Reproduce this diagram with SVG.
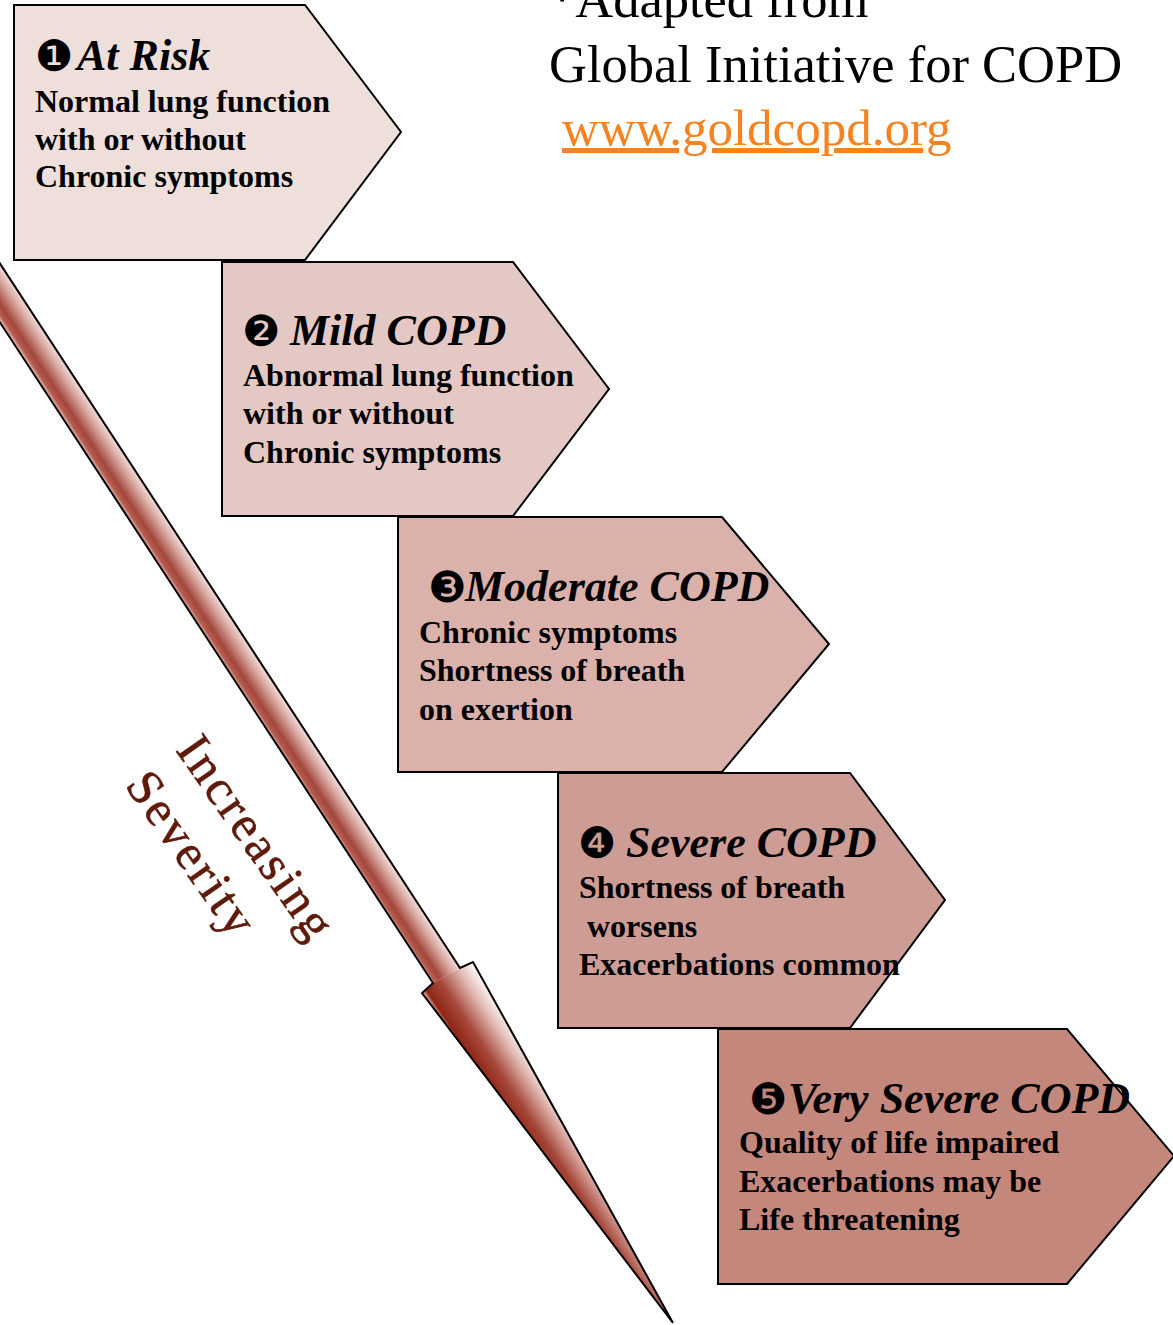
<svg xmlns="http://www.w3.org/2000/svg" width="1173" height="1325" viewBox="0 0 1173 1325">
  <defs>
    <style>
      .box { stroke: #000; stroke-width: 2; stroke-linejoin: miter; }
      .head { font-family: "Liberation Serif", "Times New Roman", serif; font-size: 44px; font-weight: bold; font-style: italic; fill: #000; }
      .num { font-family: "DejaVu Sans", sans-serif; font-size: 43px; font-style: normal; font-weight: normal; }
      .body { font-family: "Liberation Serif", "Times New Roman", serif; font-size: 32px; font-weight: bold; fill: #000; }
      .note { font-family: "Liberation Serif", "Times New Roman", serif; font-size: 52.5px; fill: #000; }
      .link { font-family: "Liberation Serif", "Times New Roman", serif; font-size: 51px; fill: #F6831F; text-decoration: underline; }
      .sev { font-family: "Liberation Serif", "Times New Roman", serif; font-size: 50px; fill: #5E1A0B; stroke: #5E1A0B; stroke-width: 0.6; letter-spacing: 3px; }
    </style>
    <!-- cylindrical shading across the shaft -->
    <linearGradient id="shaftGrad" gradientUnits="userSpaceOnUse" x1="246" y1="700" x2="273.6" y2="682">
      <stop offset="0" stop-color="#F2D6D2"/>
      <stop offset="0.14" stop-color="#B55C50"/>
      <stop offset="0.32" stop-color="#A3473B"/>
      <stop offset="0.72" stop-color="#D8A7A0"/>
      <stop offset="1" stop-color="#F4DEDB"/>
    </linearGradient>
    <!-- dark-to-white shading across the arrow head -->
    <linearGradient id="headGrad" gradientUnits="userSpaceOnUse" x1="424" y1="995" x2="474" y2="962">
      <stop offset="0" stop-color="#E9BDB6"/>
      <stop offset="0.08" stop-color="#8E2614"/>
      <stop offset="0.35" stop-color="#A6473A"/>
      <stop offset="0.72" stop-color="#E3BCB6"/>
      <stop offset="1" stop-color="#FFFFFF"/>
    </linearGradient>
  </defs>

  <rect x="0" y="0" width="1173" height="1325" fill="#FFFFFF"/>

  <!-- source note -->
  <g id="source">
    <text class="note" x="549" y="17">*Adapted from</text>
    <text class="note" x="549" y="82">Global Initiative for COPD</text>
    <text class="link" x="562" y="145">www.goldcopd.org</text>
  </g>

  <!-- severity arrow: shaft and head filled separately, one outline on top -->
  <g id="connectors">
    <path d="M-20,233 L460,968 L433,983 L-20,292 Z" fill="url(#shaftGrad)"/>
    <path d="M460,968 L473,962 L673,1323 L422,993 L433,983 Z" fill="url(#headGrad)"/>
    <path d="M-20,233 L460,968 L473,962 L673,1323 L422,993 L433,983 L-20,292" fill="none" stroke="#000" stroke-width="2" stroke-linejoin="miter"/>
  </g>

  <g id="severity-label" transform="translate(175,750) rotate(55)">
    <text class="sev" x="0" y="0">Increasing</text>
    <text class="sev" x="0" y="62">Severity</text>
  </g>

  <!-- stage 1 -->
  <g id="stage1">
    <path class="box" d="M14,5 H305 L401,132 L305,260 H14 Z" fill="#EEDFDB"/>
    <text class="head" y="70"><tspan class="num" x="35" dy="1">❶</tspan><tspan x="77" dy="-1">At Risk</tspan></text>
    <text class="body" x="35" y="112">Normal lung function</text>
    <text class="body" x="35" y="150">with or without</text>
    <text class="body" x="35" y="187">Chronic symptoms</text>
  </g>

  <!-- stage 2 -->
  <g id="stage2">
    <path class="box" d="M222,262 H513 L609,389 L513,516 H222 Z" fill="#E4C8C3"/>
    <text class="head" y="345"><tspan class="num" x="242" dy="1">❷</tspan><tspan x="290" dy="-1">Mild COPD</tspan></text>
    <text class="body" x="243" y="386">Abnormal lung function</text>
    <text class="body" x="243" y="424">with or without</text>
    <text class="body" x="243" y="463">Chronic symptoms</text>
  </g>

  <!-- stage 3 -->
  <g id="stage3">
    <path class="box" d="M398,517 H722 L829,644 L722,772 H398 Z" fill="#DAB2AB"/>
    <text class="head" y="601"><tspan class="num" x="428" dy="1">❸</tspan><tspan x="465" dy="-1">Moderate COPD</tspan></text>
    <text class="body" x="419" y="643">Chronic symptoms</text>
    <text class="body" x="419" y="681">Shortness of breath</text>
    <text class="body" x="419" y="720">on exertion</text>
  </g>

  <!-- stage 4 -->
  <g id="stage4">
    <path class="box" d="M558,773 H850 L945,900 L850,1028 H558 Z" fill="#CD9C94"/>
    <text class="head" y="857"><tspan class="num" x="578" dy="1">❹</tspan><tspan x="626" dy="-1">Severe COPD</tspan></text>
    <text class="body" x="579" y="898">Shortness of breath</text>
    <text class="body" x="579" y="937" xml:space="preserve"> worsens</text>
    <text class="body" x="579" y="975">Exacerbations common</text>
  </g>

  <!-- stage 5 -->
  <g id="stage5">
    <path class="box" d="M718,1029 H1067 L1174,1156 L1067,1284 H718 Z" fill="#C4877C"/>
    <text class="head" y="1113"><tspan class="num" x="749" dy="1">❺</tspan><tspan x="788" dy="-1">Very Severe COPD</tspan></text>
    <text class="body" x="739" y="1153">Quality of life impaired</text>
    <text class="body" x="739" y="1192">Exacerbations may be</text>
    <text class="body" x="739" y="1230">Life threatening</text>
  </g>
</svg>
